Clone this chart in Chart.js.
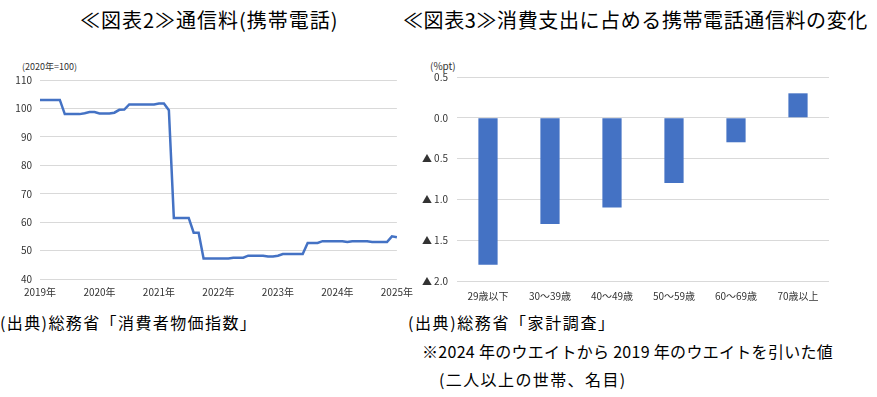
<!DOCTYPE html>
<html>
<head>
<meta charset="utf-8">
<script src="https://cdn.jsdelivr.net/npm/chart.js@4"></script>
<style>
  body {margin: 0; width: 877px; height: 397px; background: #fff; position: relative; overflow: hidden;
    font-family: 'Noto Sans CJK JP', sans-serif; color: #000}
  .txt {position: absolute; white-space: nowrap}
  .title {font-size: 20px; line-height: 20px; top: 10px}
  .note {font-size: 16px; line-height: 16px}
  .unit {font-size: 9px; line-height: 9px; color: #333}
  canvas {position: absolute; top: 0}
</style>
</head>
<body>
<div class="txt title" style="left:80px;letter-spacing:1px">≪図表2≫通信料(携帯電話)</div>
<div class="txt title" style="left:403px;letter-spacing:0.6px">≪図表3≫消費支出に占める携帯電話通信料の変化</div>

<div class="txt unit" style="left:22px;top:62px">(2020年=100)</div>
<div class="txt unit" style="left:430px;top:61px;font-size:10px">(%pt)</div>

<div class="txt note" style="left:0px;top:314px;letter-spacing:1.4px">(出典)総務省「消費者物価指数」</div>
<div class="txt note" style="left:408px;top:314px;letter-spacing:1.6px">(出典)総務省「家計調査」</div>
<div class="txt note" style="left:422px;top:343px;letter-spacing:0.3px">※2024 年のウエイトから 2019 年のウエイトを引いた値</div>
<div class="txt note" style="left:439px;top:371px;letter-spacing:1.4px">(二人以上の世帯、名目)</div>

<canvas id="cpi_chart" width="420" height="310" style="left:0;width:420px;height:310px"></canvas>
<canvas id="weight_chart" width="467" height="310" style="left:410px;width:467px;height:310px"></canvas>

<script>
// 図表2: 携帯電話通信料 CPI (2020年=100), 2019年1月〜2025年1月 月次
const years = ['2019年', '2020年', '2021年', '2022年', '2023年', '2024年', '2025年']
const cpiValues = [
  103.0, 103.0, 103.0, 103.0, 103.0, 98.0, 98.0, 98.0, 98.0, 98.3, 98.7, 98.7,
  98.2, 98.2, 98.2, 98.5, 99.5, 99.6, 101.4, 101.4, 101.4, 101.4, 101.4, 101.4,
  101.7, 101.7, 99.4, 61.5, 61.5, 61.5, 61.5, 56.3, 56.3, 47.2, 47.2, 47.2,
  47.2, 47.2, 47.2, 47.5, 47.5, 47.5, 48.2, 48.2, 48.2, 48.2, 47.9, 47.9,
  48.2, 48.8, 48.8, 48.8, 48.8, 48.8, 52.7, 52.7, 52.7, 53.3, 53.3, 53.3,
  53.3, 53.3, 53.0, 53.3, 53.3, 53.3, 53.3, 53.0, 53.0, 53.0, 53.0, 55.0,
  54.7
]
const cpiTicks = [40, 110, 10]

// 図表3: 世帯主の年齢階級別 ウエイト差 (%pt)
const ageGroups = ['29歳以下', '30～39歳', '40～49歳', '50～59歳', '60～69歳', '70歳以上']
const weightDiff = [-1.8, -1.3, -1.1, -0.8, -0.3, 0.3]
const diffTicks = [-2.0, 0.5, 0.5]

const BLUE = '#4472C4'
const GRID = '#d9d9d9'
const LABEL = '#333'

Chart.defaults.font.family = "'Noto Sans CJK JP', sans-serif"
Chart.defaults.font.size = 10
Chart.defaults.color = LABEL
Chart.defaults.animation = false

// 1月だけ年ラベル、他は空
const monthLabels = cpiValues.map((v, i) => i % 12 === 0 ? years[i / 12] : '')

new Chart(document.getElementById('cpi_chart').getContext('2d'), {
  type: 'line',
  data: {
    labels: monthLabels,
    datasets: [{data: cpiValues, borderColor: BLUE, borderWidth: 2.5, pointRadius: 0, tension: 0}]
  },
  options: {
    responsive: false,
    layout: {padding: {top: 80, right: 20, left: 0, bottom: 0}},
    plugins: {legend: {display: false}, tooltip: {enabled: false}},
    scales: {
      x: {
        offset: false,
        grid: {display: false, drawTicks: false},
        border: {display: false},
        ticks: {autoSkip: false, maxRotation: 0, padding: 7, font: {size: 10}},
        afterFit: (scale) => { scale.height = 31 }
      },
      y: {
        min: cpiTicks[0], max: cpiTicks[1],
        grid: {color: GRID, drawTicks: false},
        border: {display: false},
        ticks: {stepSize: cpiTicks[2], padding: 8, font: {size: 10}},
        afterFit: (scale) => { scale.width = 40 }
      }
    }
  }
})

const fmtDiff = (v) => v < 0 ? '▲ ' + Math.abs(v).toFixed(1) : v.toFixed(1)

new Chart(document.getElementById('weight_chart').getContext('2d'), {
  type: 'bar',
  data: {
    labels: ageGroups,
    datasets: [{data: weightDiff, backgroundColor: BLUE, categoryPercentage: 0.62, barPercentage: 0.5}]
  },
  options: {
    responsive: false,
    layout: {padding: {top: 77, right: 48, left: 0, bottom: 0}},
    plugins: {legend: {display: false}, tooltip: {enabled: false}},
    scales: {
      x: {
        grid: {display: false, drawTicks: false},
        border: {display: false},
        ticks: {padding: 9, font: {size: 10}},
        afterFit: (scale) => { scale.height = 29 }
      },
      y: {
        min: diffTicks[0], max: diffTicks[1],
        grid: {color: GRID, drawTicks: false},
        border: {display: false},
        ticks: {stepSize: diffTicks[2], padding: 9, font: {size: 10}, callback: fmtDiff},
        afterFit: (scale) => { scale.width = 47 }
      }
    }
  }
})
</script>
</body>
</html>
